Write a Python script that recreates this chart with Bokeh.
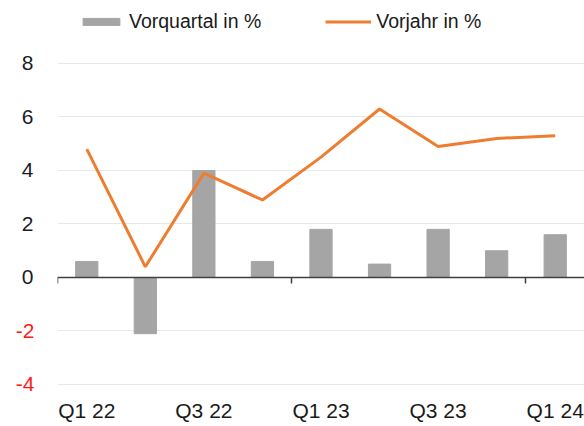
from bokeh.plotting import figure
from bokeh.models import (Range1d, LinearAxis, FixedTicker, Legend, LegendItem, ColumnDataSource, Grid)
from bokeh.embed import file_html
from bokeh.resources import INLINE

categories = ["Q1 22", "Q2 22", "Q3 22", "Q4 22", "Q1 23", "Q2 23", "Q3 23", "Q4 23", "Q1 24"]
vorquartal = [0.6, -2.1, 4.0, 0.6, 1.8, 0.5, 1.8, 1.0, 1.6]
vorjahr = [4.8, 0.4, 3.9, 2.9, 4.5, 6.3, 4.9, 5.2, 5.3]
y_ticks_pos = [0, 2, 4, 6, 8]
y_ticks_neg = [-4, -2]

FONT = "Liberation Sans"

xs = [i + 0.5 for i in range(len(categories))]
src = ColumnDataSource(dict(x=xs, q=vorquartal, j=vorjahr))

p = figure(width=584, height=426, output_backend="svg", toolbar_location=None,
           x_range=Range1d(0, len(categories)), y_range=Range1d(-4.075, 10.355),
           x_axis_location=None, y_axis_location=None,
           min_border_left=57, min_border_right=0, min_border_top=0, min_border_bottom=40)
p.outline_line_color = None
p.grid.grid_line_color = None

grid = Grid(dimension=1, ticker=FixedTicker(ticks=[t for t in y_ticks_neg + y_ticks_pos if t != 0]),
            grid_line_color="#e8e8e8", grid_line_width=1)
p.add_layout(grid)

bars = p.vbar(x="x", top="q", bottom=0, width=0.38, source=src, color="#a5a5a5")
line = p.line(x="x", y="j", source=src, line_color="#ed7d31", line_width=3)

# bottom label axis (Q1/Q3 labels)
label_pos = xs[::2]
xlab = LinearAxis(ticker=FixedTicker(ticks=label_pos),
                  major_label_overrides={x: categories[i * 2] for i, x in enumerate(label_pos)})
xlab.axis_line_color = None
xlab.major_tick_line_color = None
xlab.minor_tick_line_color = None
xlab.major_label_text_font = FONT
xlab.major_label_text_font_size = "21px"
xlab.major_label_text_color = "#1a1a1a"
xlab.major_label_standoff = 6
p.add_layout(xlab, "below")

# zero line axis with year ticks
zax = LinearAxis(fixed_location=0, ticker=FixedTicker(ticks=[0, 4, 8]))
zax.axis_line_color = "#404040"
zax.axis_line_width = 1.5
zax.major_tick_line_color = "#404040"
zax.major_tick_line_width = 1.5
zax.major_tick_out = 6
zax.major_tick_in = 0
zax.minor_tick_line_color = None
zax.major_label_text_color = None
p.add_layout(zax, "below")

# y axes: positive labels dark, negative labels red
yax = LinearAxis(ticker=FixedTicker(ticks=y_ticks_pos))
yneg = LinearAxis(ticker=FixedTicker(ticks=y_ticks_neg),
                  major_label_overrides={t: str(t) for t in y_ticks_neg})
for ax, col, so in ((yax, "#1c1c28", 24), (yneg, "#ff1a1a", -16)):
    ax.axis_line_color = None
    ax.major_tick_line_color = None
    ax.minor_tick_line_color = None
    ax.major_tick_out = 0
    ax.major_tick_in = 0
    ax.major_label_text_font = FONT
    ax.major_label_text_font_size = "21px"
    ax.major_label_text_color = col
    ax.major_label_standoff = so
p.add_layout(yax, "left")
p.add_layout(yneg, "left")

legend = Legend(items=[LegendItem(label="Vorquartal in %", renderers=[bars]),
                       LegendItem(label="Vorjahr in %", renderers=[line])],
                orientation="horizontal", location=(21, 353))
legend.border_line_color = None
legend.background_fill_alpha = 0
legend.label_text_font = FONT
legend.label_text_font_size = "19.5px"
legend.label_text_color = "#1a1a1a"
legend.glyph_width = 46
legend.glyph_height = 9
legend.label_standoff = 5
legend.spacing = 64
legend.padding = 0
legend.margin = 0
p.add_layout(legend)

open("out.html", "w").write(file_html(p, INLINE))
